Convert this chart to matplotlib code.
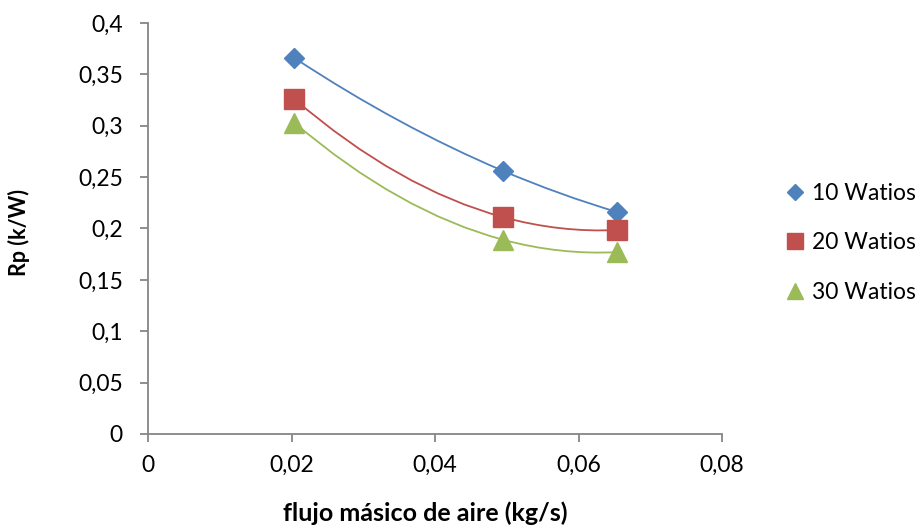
import numpy as np
import matplotlib.pyplot as plt
from matplotlib.path import Path
from matplotlib.patches import PathPatch

# data
flujo = [0.0204, 0.0495, 0.0654]
rp_10 = [0.366, 0.256, 0.216]
rp_20 = [0.326, 0.211, 0.1985]
rp_30 = [0.303, 0.189, 0.177]
series_names = ["10 Watios", "20 Watios", "30 Watios"]
x_ticks = [0, 0.02, 0.04, 0.06, 0.08]
y_ticks = [0, 0.05, 0.1, 0.15, 0.2, 0.25, 0.3, 0.35, 0.4]

plt.rcParams['font.family'] = ['Lato', 'DejaVu Sans']


def trend_path(x, y):
    # 2nd order polynomial trendline through the points, drawn as quadratic Bezier pieces
    c = np.polyfit(x, y, 2)
    d = np.polyder(c)
    verts = [(x[0], np.polyval(c, x[0]))]
    codes = [Path.MOVETO]
    for x0, x1 in zip(x[:-1], x[1:]):
        xm = (x0 + x1) / 2
        ym = np.polyval(c, x0) + np.polyval(d, x0) * (x1 - x0) / 2
        verts += [(xm, ym), (x1, np.polyval(c, x1))]
        codes += [Path.CURVE3, Path.CURVE3]
    return Path(verts, codes)


fig = plt.figure(figsize=(9.21, 5.28), dpi=100)
ax = fig.add_axes([148 / 921, (528 - 434) / 528, (722 - 148) / 921, (434 - 23) / 528])

colors = ['#4F81BD', '#C0504D', '#9BBB59']
markers = ['D', 's', '^']
sizes = [10, 14, 15]
for yv, c, m, s, name in zip([rp_10, rp_20, rp_30], colors, markers, sizes, series_names):
    ax.add_patch(PathPatch(trend_path(flujo, yv), facecolor='none', edgecolor=c, lw=1.3, zorder=2))
    ax.plot(flujo, yv, linestyle='none', marker=m, ms=s, color=c, mec=c, zorder=3, label=name)

ax.set_xlim(0, 0.08)
ax.set_ylim(0, 0.4)
ax.set_xticks(x_ticks)
ax.set_yticks(y_ticks)
ax.set_xticklabels([f"{v:g}".replace('.', ',') for v in x_ticks])
ax.set_yticklabels([f"{v:g}".replace('.', ',') for v in y_ticks])
for sp in ['top', 'right']:
    ax.spines[sp].set_visible(False)
for sp in ['left', 'bottom']:
    ax.spines[sp].set_color('#868686')
    ax.spines[sp].set_linewidth(1.3)
ax.tick_params(axis='both', colors='#868686', labelcolor='black', labelsize=16.5, length=6, width=1.3)
ax.tick_params(axis='x', pad=9)
ax.tick_params(axis='y', pad=12)

ax.set_xlabel('flujo másico de aire (kg/s)', fontsize=18, fontweight='bold')
ax.xaxis.set_label_coords(0.483, -0.165)
ax.set_ylabel('Rp (k/W)', fontsize=15.5, fontweight='bold')
ax.yaxis.set_label_coords(-0.205, 0.49)

leg = ax.legend(loc='center left', bbox_to_anchor=(1.075, 0.465), frameon=False, fontsize=16.5,
                handlelength=0.8, handletextpad=0.35, labelspacing=1.25, markerscale=0.8)

fig.savefig('out.png', dpi=100)
